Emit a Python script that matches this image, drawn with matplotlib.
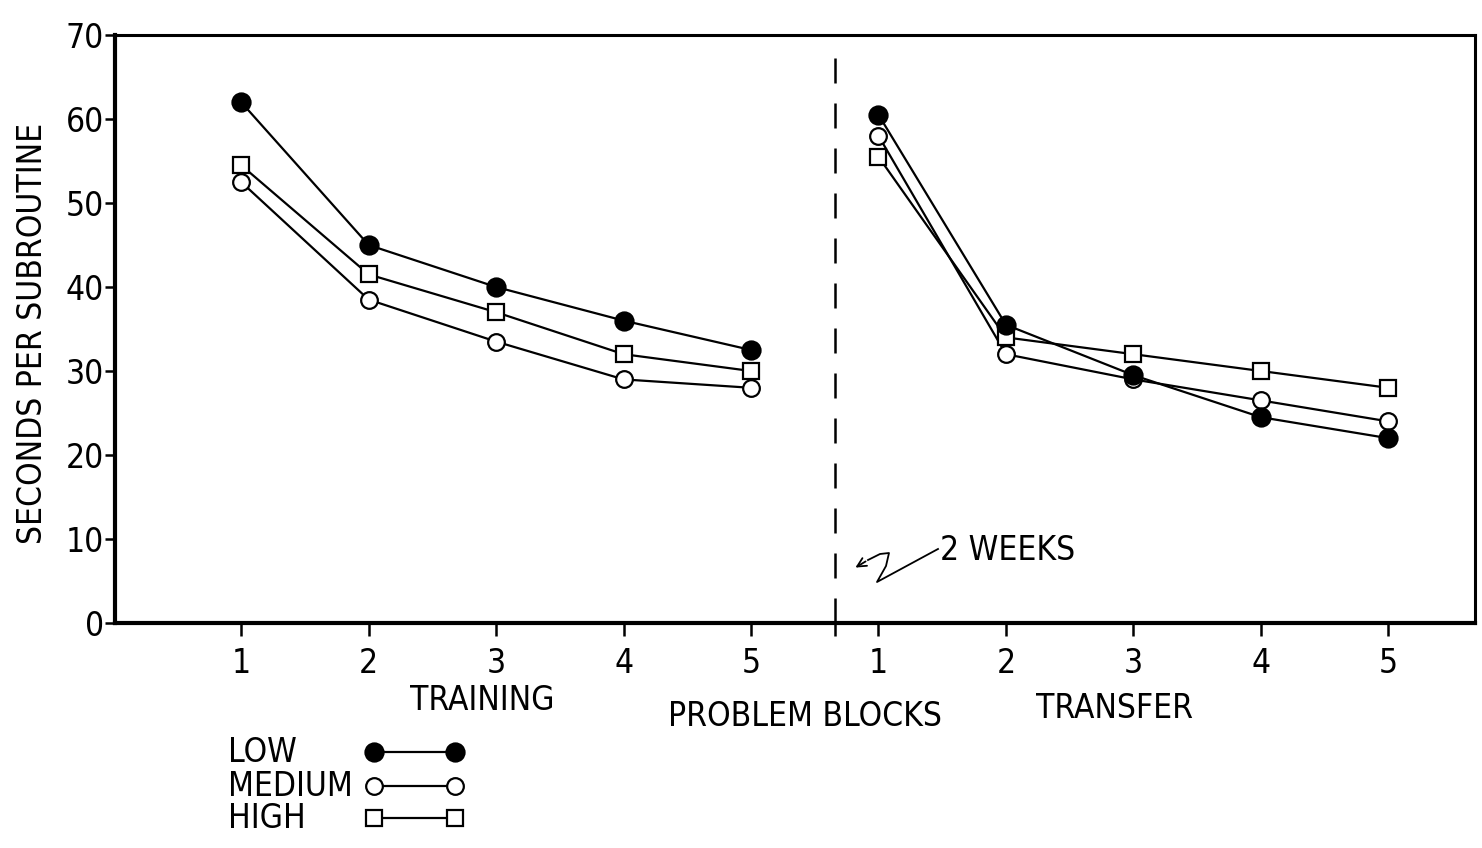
import matplotlib
matplotlib.use("Agg")
import matplotlib.pyplot as plt
from matplotlib.lines import Line2D

plt.rcParams["font.family"] = "DejaVu Sans"
plt.rcParams["font.stretch"] = "condensed"

# problem blocks (1-5 training, 1-5 transfer)
train_x = [1, 2, 3, 4, 5]
transfer_x = [6, 7, 8, 9, 10]
block_labels = ["1", "2", "3", "4", "5", "1", "2", "3", "4", "5"]

# seconds per subroutine
train_low = [62, 45, 40, 36, 32.5]
train_medium = [52.5, 38.5, 33.5, 29, 28]
train_high = [54.5, 41.5, 37, 32, 30]
transfer_low = [60.5, 35.5, 29.5, 24.5, 22]
transfer_medium = [58, 32, 29, 26.5, 24]
transfer_high = [55.5, 34, 32, 30, 28]

break_x = 5.66  # the "2 weeks" gap

W, H = 1482, 848
FS = 24
fig = plt.figure(figsize=(W / 100, H / 100), dpi=100)
ax = fig.add_axes([115 / W, 1 - 623 / H, (1475 - 115) / W, (623 - 35) / H])

styles = {
    "low": dict(marker="o", markersize=13, markerfacecolor="black"),
    "medium": dict(marker="o", markersize=12, markerfacecolor="white"),
    "high": dict(marker="s", markersize=11, markerfacecolor="white"),
}
common = dict(color="black", linewidth=1.6, markeredgecolor="black",
              markeredgewidth=1.6)

for xs, (med, high, low) in [
        (train_x, (train_medium, train_high, train_low)),
        (transfer_x, (transfer_medium, transfer_high, transfer_low))]:
    ax.plot(xs, med, **styles["medium"], **common)
    ax.plot(xs, high, **styles["high"], **common)
    ax.plot(xs, low, **styles["low"], **common)

ax.axvline(break_x, color="black", linewidth=1.8, linestyle=(0, (10, 8)),
           ymax=0.985)

ax.set_xlim(0.01, 10.68)
ax.set_ylim(0, 70)

ax.set_yticks(range(0, 71, 10))
ax.set_xticks(train_x + transfer_x + [break_x])
ax.set_xticklabels(block_labels + [""])
ax.tick_params(axis="y", direction="out", length=7, width=1.8,
               labelsize=FS, pad=1)
ax.tick_params(axis="x", direction="out", length=9, width=1.8,
               labelsize=FS, pad=8)
for side in ["left", "bottom"]:
    ax.spines[side].set_linewidth(3)
for side in ["top", "right"]:
    ax.spines[side].set_linewidth(2.2)

fig.text(33 / W, 1 - 333 / H, "SECONDS PER SUBROUTINE", rotation=90,
         ha="center", va="center", fontsize=FS)
fig.text(482 / W, 1 - 700 / H, "TRAINING", ha="center", va="center",
         fontsize=FS)
fig.text(805 / W, 1 - 717 / H, "PROBLEM BLOCKS", ha="center", va="center",
         fontsize=FS)
fig.text(1115 / W, 1 - 708 / H, "TRANSFER", ha="center", va="center",
         fontsize=FS)

# "2 WEEKS" note with the hand-drawn squiggle arrow
fig.text(940 / W, 1 - 551 / H, "2 WEEKS", ha="left", va="center",
         fontsize=FS)
sq = [(938, 549), (877, 582), (886, 566), (889, 553), (880, 554), (868, 560)]
fig.add_artist(Line2D([p[0] / W for p in sq], [1 - p[1] / H for p in sq],
                      transform=fig.transFigure, color="black", linewidth=1.3))
ax.annotate("", xy=(853 / W, 1 - 569 / H), xytext=(868 / W, 1 - 560 / H),
            xycoords="figure fraction", textcoords="figure fraction",
            arrowprops=dict(arrowstyle="->", color="black", lw=1.3,
                            mutation_scale=16))

# legend drawn below the plot
legend_rows = [("LOW", 752, "low"), ("MEDIUM", 786, "medium"),
               ("HIGH", 818, "high")]
for name, py, key in legend_rows:
    fig.text(228 / W, 1 - py / H, name, ha="left", va="center", fontsize=FS)
    fig.add_artist(Line2D([374 / W, 455 / W], [1 - py / H, 1 - py / H],
                          transform=fig.transFigure, **styles[key], **common))

fig.savefig("out.png", dpi=100)
